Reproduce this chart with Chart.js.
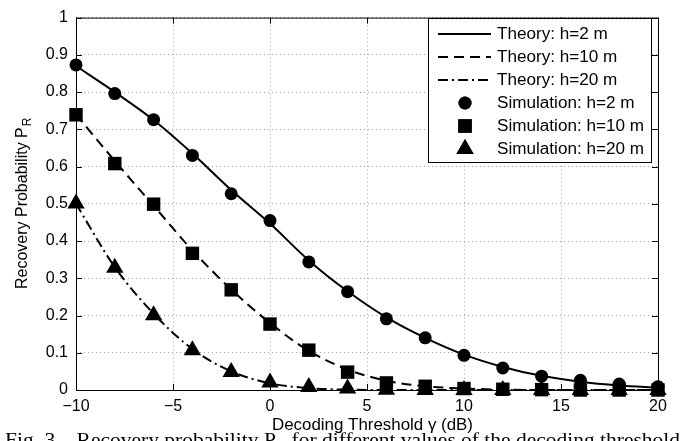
<!DOCTYPE html>
<html>
<head>
<meta charset="utf-8">
<script src="https://cdn.jsdelivr.net/npm/chart.js@4/dist/chart.umd.min.js"></script>
<style>
  html, body { margin: 0; padding: 0; background: #fff; }
  #wrap { width: 689px; height: 441px; }
</style>
</head>
<body>
<div id="wrap"><canvas id="prChart" width="689" height="441"></canvas></div>
<script>
// decoding threshold (dB)
const gamma = [-10, -8, -6, -4, -2, 0, 2, 4, 6, 8, 10, 12, 14, 16, 18, 20];

// theory curves
const theory2 = [0.870, 0.800, 0.725, 0.635, 0.537, 0.447, 0.348, 0.265, 0.195, 0.140, 0.095, 0.062, 0.038, 0.022, 0.012, 0.006];
const theory10 = [0.740, 0.615, 0.495, 0.375, 0.270, 0.180, 0.105, 0.055, 0.025, 0.010, 0.004, 0.001, 0, 0, 0, 0];
const theory20 = [0.500, 0.330, 0.205, 0.110, 0.050, 0.018, 0.005, 0.001, 0, 0, 0, 0, 0, 0, 0, 0];

// simulation points
const sim2 = [0.873, 0.796, 0.726, 0.630, 0.527, 0.455, 0.344, 0.264, 0.191, 0.140, 0.093, 0.059, 0.037, 0.026, 0.016, 0.009];
const sim10 = [0.739, 0.608, 0.499, 0.367, 0.269, 0.177, 0.107, 0.048, 0.019, 0.010, 0.004, 0.002, 0.001, 0, 0, 0];
const sim20 = [0.501, 0.328, 0.201, 0.107, 0.048, 0.020, 0.008, 0.004, 0.001, 0, 0, 0, 0, 0, 0, 0];

const labels = ['Theory: h=2 m', 'Theory: h=10 m', 'Theory: h=20 m',
                'Simulation: h=2 m', 'Simulation: h=10 m', 'Simulation: h=20 m'];

const FONT = '"Liberation Sans", Arial, sans-serif';
const SERIF = '"Liberation Serif", "Times New Roman", serif';
const pts = arr => gamma.map((g, i) => ({ x: g, y: arr[i] }));

function theoryLine(label, arr, dash) {
    return {
        label, data: pts(arr), borderColor: '#000', borderWidth: 2,
        borderDash: dash, pointRadius: 0, cubicInterpolationMode: 'monotone',
        fill: false, clip: false
    };
}
function simPoints(label, arr, style, r) {
    return {
        label, data: pts(arr), showLine: false, pointStyle: style,
        pointRadius: r, pointBackgroundColor: '#000', pointBorderColor: '#000',
        pointBorderWidth: 0, clip: false
    };
}

// text drawn with a horizontal stretch (the reference is a bit wide)
function stretchText(ctx, text, x, y, sx) {
    ctx.save();
    ctx.translate(x, y);
    ctx.scale(sx, 1);
    ctx.fillText(text, 0, 0);
    ctx.restore();
}

// box, inward ticks, axis titles, legend and caption (MATLAB look)
const matlabFrame = {
    id: 'matlabFrame',
    beforeDatasetsDraw(chart) {
        const { ctx, chartArea: a, scales: { x, y } } = chart;
        ctx.save();
        ctx.strokeStyle = '#000';
        ctx.lineWidth = 1;
        ctx.strokeRect(a.left + 0.5, a.top + 0.5, a.right - a.left, a.bottom - a.top);
        ctx.beginPath();
        x.ticks.forEach(t => {
            const px = Math.round(x.getPixelForValue(t.value)) + 0.5;
            ctx.moveTo(px, a.bottom); ctx.lineTo(px, a.bottom - 6);
            ctx.moveTo(px, a.top); ctx.lineTo(px, a.top + 6);
        });
        y.ticks.forEach(t => {
            const py = Math.round(y.getPixelForValue(t.value)) + 0.5;
            ctx.moveTo(a.left, py); ctx.lineTo(a.left + 6, py);
            ctx.moveTo(a.right, py); ctx.lineTo(a.right - 6, py);
        });
        ctx.stroke();
        ctx.restore();
    },
    afterDraw(chart) {
        const { ctx, chartArea: a } = chart;
        ctx.save();
        ctx.fillStyle = '#000';
        ctx.textBaseline = 'alphabetic';

        // x title, stretched to the reference width (~201px)
        ctx.font = '16px ' + FONT;
        ctx.textAlign = 'left';
        const xt = 'Decoding Threshold \u03b3 (dB)';
        const sxT = 201 / ctx.measureText(xt).width;
        stretchText(ctx, xt, 272, 430, sxT);

        // y title with subscript
        ctx.save();
        ctx.translate(27, (a.top + a.bottom) / 2);
        ctx.rotate(-Math.PI / 2);
        const main = 'Recovery Probability P';
        ctx.font = '16px ' + FONT;
        const wMain = ctx.measureText(main).width;
        ctx.font = '12px ' + FONT;
        const wSub = ctx.measureText('R').width;
        const x0 = -(wMain + wSub) / 2;
        ctx.font = '16px ' + FONT;
        ctx.fillText(main, x0, 0);
        ctx.font = '12px ' + FONT;
        ctx.fillText('R', x0 + wMain + 1, 4);
        ctx.restore();

        // legend
        const lx = 428, ly = 18, lw = 223, lh = 144;
        ctx.fillStyle = '#fff';
        ctx.fillRect(lx, ly, lw, lh);
        ctx.strokeStyle = '#000';
        ctx.lineWidth = 1;
        ctx.strokeRect(lx + 0.5, ly + 0.5, lw, lh);
        ctx.font = '16px ' + FONT;
        const sxL = 147 / ctx.measureText(labels[5]).width;
        chart.data.datasets.forEach((ds, i) => {
            const cy = 34 + i * 23;
            ctx.fillStyle = '#000';
            ctx.strokeStyle = '#000';
            if (ds.showLine === false) {
                Chart.helpers.drawPoint(ctx, {
                    pointStyle: ds.pointStyle, radius: ds.pointRadius,
                    borderWidth: 0, rotation: 0
                }, 465, cy);
                ctx.fill();
            } else {
                ctx.lineWidth = ds.borderWidth;
                ctx.setLineDash(ds.borderDash || []);
                ctx.beginPath();
                ctx.moveTo(438, cy); ctx.lineTo(491, cy);
                ctx.stroke();
                ctx.setLineDash([]);
            }
            ctx.font = '16px ' + FONT;
            ctx.textAlign = 'left';
            ctx.textBaseline = 'middle';
            ctx.fillStyle = '#000';
            stretchText(ctx, ds.label, 497, cy + 1, sxL);
        });

        // figure caption, only its top shows above the bottom edge
        ctx.textBaseline = 'alphabetic';
        ctx.textAlign = 'left';
        const c1 = 'Fig. 3.   Recovery probability P';
        const c2 = ' for different values of the decoding threshold';
        ctx.font = '18px ' + SERIF;
        const w1 = ctx.measureText(c1).width;
        const w2 = ctx.measureText(c2).width;
        ctx.font = '13px ' + SERIF;
        const wR = ctx.measureText('R').width;
        ctx.save();
        ctx.translate(5, 446);
        ctx.scale(675 / (w1 + wR + w2), 1);
        ctx.font = '18px ' + SERIF;
        ctx.fillText(c1, 0, 0);
        ctx.font = '13px ' + SERIF;
        ctx.fillText('R', w1, 4);
        ctx.font = '18px ' + SERIF;
        ctx.fillText(c2, w1 + wR, 0);
        ctx.restore();
        ctx.restore();
    }
};

function initChart() {
    const ctx = document.getElementById('prChart').getContext('2d');
    new Chart(ctx, {
        type: 'line',
        data: {
            datasets: [
                theoryLine(labels[0], theory2, []),
                theoryLine(labels[1], theory10, [10, 6]),
                theoryLine(labels[2], theory20, [10, 4, 2, 4]),
                simPoints(labels[3], sim2, 'circle', 6.5),
                simPoints(labels[4], sim10, 'rect', 9.5),
                simPoints(labels[5], sim20, 'triangle', 10)
            ]
        },
        options: {
            responsive: false,
            animation: false,
            devicePixelRatio: 1,
            layout: { padding: { top: 9, right: 31, left: 0, bottom: 0 } },
            plugins: { legend: { display: false }, tooltip: { enabled: false } },
            scales: {
                x: {
                    type: 'linear', min: -10, max: 20,
                    ticks: {
                        stepSize: 5, color: '#000', padding: 7,
                        font: { size: 16, family: FONT },
                        maxRotation: 0,
                        callback: v => String(v).replace('-', '\u2212')
                    },
                    grid: { color: '#a0a0a0', drawTicks: false },
                    border: { display: false, dash: [1, 3] },
                    afterFit: s => { s.height = 51; }
                },
                y: {
                    min: 0, max: 1,
                    ticks: {
                        stepSize: 0.1, color: '#000', padding: 8,
                        font: { size: 16, family: FONT },
                        callback: v => String(+v.toFixed(1))
                    },
                    grid: { color: '#a0a0a0', drawTicks: false },
                    border: { display: false, dash: [1, 3] },
                    afterFit: s => { s.width = 76; }
                }
            }
        },
        plugins: [matlabFrame]
    });
}

window.addEventListener('load', initChart);
</script>
</body>
</html>
